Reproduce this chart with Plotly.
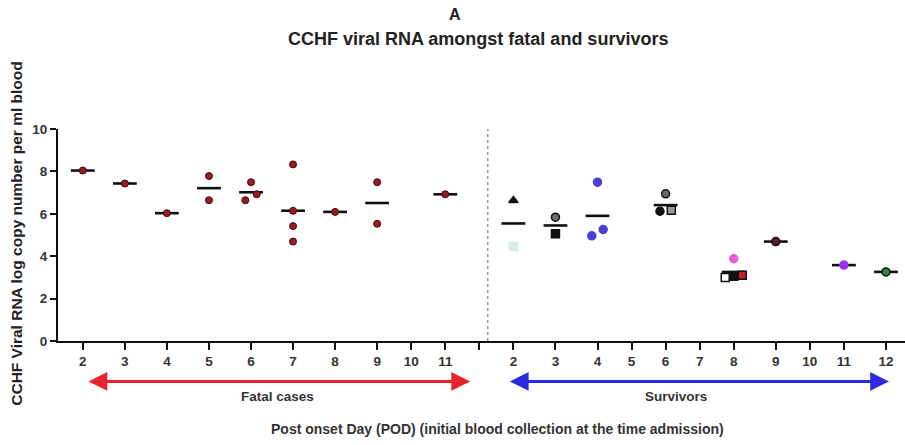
import plotly.graph_objects as go

# ---------------- data ----------------
fatal_days = [2, 3, 4, 5, 6, 7, 8, 9, 10, 11]
fatal_values = [
    [8.04], [7.43], [6.03], [7.78, 6.64], [7.49, 6.92, 6.64],
    [8.33, 6.14, 5.42, 4.69], [6.09], [7.49, 5.53], [], [6.92],
]
surv_days = [2, 3, 4, 5, 6, 7, 8, 9, 10, 11, 12]
surv_values = [
    [6.63, 4.46], [5.84, 5.06], [7.49, 5.26, 4.96], [], [6.94, 6.12, 6.17], [],
    [3.88, 3.0, 3.05, 3.1], [4.69], [], [3.58], [3.26],
]
y_ticks = [0, 2, 4, 6, 8, 10]

# ---------------- styles ----------------
FATAL_FILL = "#9a1c22"
FATAL_LINE = "#3a0a0c"
# per-point survivor styles: (symbol, fill, outline)
surv_styles = [
    [("triangle-up", "#111111", "#111111"), ("square", "#d9ece8", "#d9ece8")],
    [("circle", "#6a6a6a", "#111111"), ("square", "#111111", "#111111")],
    [("circle", "#4b3fd6", "#4b3fd6")] * 3,
    [],
    [("circle", "#6a6a6a", "#111111"), ("circle", "#111111", "#111111"), ("square", "#9a9a9a", "#111111")],
    [],
    [("circle", "#f05ad2", "#f05ad2"), ("square", "#ffffff", "#111111"),
     ("square", "#111111", "#111111"), ("square", "#c0202e", "#111111")],
    [("circle", "#5a1a30", "#111111")],
    [],
    [("circle", "#9b30f0", "#9b30f0")],
    [("circle", "#2e8b3e", "#111111")],
]

# ---------------- column positions (GraphPad-like: empty columns narrower) ----------------
EMPTY_W = 0.62
columns = [("F", d, v) for d, v in zip(fatal_days, fatal_values)] + [("G", None, [])] + \
          [("S", d, v) for d, v in zip(surv_days, surv_values)]
centers = []
acc = 0.0
for kind, d, v in columns:
    w = 1.0 if v else EMPTY_W
    centers.append(acc + w / 2)
    acc += w
gap_center = centers[len(fatal_days)]


def swarm_offsets(vals, thr=0.45, step=0.27):
    """offsets so that points closer than thr in y are spread horizontally"""
    n = len(vals)
    offs = [0.0] * n
    order = sorted(range(n), key=lambda i: vals[i])
    clusters, cur = [], [order[0]] if n else []
    for a, b in zip(order, order[1:]):
        if vals[b] - vals[a] < thr:
            cur.append(b)
        else:
            clusters.append(cur)
            cur = [b]
    if cur:
        clusters.append(cur)
    for cl in clusters:
        m = len(cl)
        st = step if m <= 2 else step * 0.75
        for k, i in enumerate(cl):
            offs[i] = (k - (m - 1) / 2) * st
    return offs


fig = go.Figure()

# mean bars
bx, by = [], []
for (kind, d, v), c in zip(columns, centers):
    if v:
        bx.append(c)
        by.append(sum(v) / len(v))
fig.add_trace(go.Scatter(
    x=bx, y=by, mode="markers", cliponaxis=False, hoverinfo="skip",
    marker=dict(symbol="line-ew", size=17, line=dict(color="#111111", width=2.6)),
))

# fatal points
fx, fy = [], []
for i, v in enumerate(fatal_values):
    offs = swarm_offsets(v) if v else []
    for val, o in zip(v, offs):
        fx.append(centers[i] + o)
        fy.append(val)
fig.add_trace(go.Scatter(
    x=fx, y=fy, mode="markers", cliponaxis=False,
    marker=dict(symbol="circle", size=7, color=FATAL_FILL, line=dict(color=FATAL_LINE, width=1)),
))

# survivor points
base = len(fatal_days) + 1
sx, sy, ssym, sfill, sline = [], [], [], [], []
for j, v in enumerate(surv_values):
    offs = swarm_offsets(v) if v else []
    for k, (val, o) in enumerate(zip(v, offs)):
        sym, fill, line = surv_styles[j][k]
        sx.append(centers[base + j] + o)
        sy.append(val)
        ssym.append(sym)
        sfill.append(fill)
        sline.append(line)
fig.add_trace(go.Scatter(
    x=sx, y=sy, mode="markers", cliponaxis=False,
    marker=dict(symbol=ssym, size=8, color=sfill, line=dict(color=sline, width=1.5)),
))

# ---------------- layout ----------------
W, H = 905, 445
L, R, T, B = 58, 0, 129, 103.5
PW, PH = W - L - R, H - T - B


def px(xp):
    return (xp - L) / PW


def py(yp):
    return (H - B - yp) / PH


tickvals = centers
ticktext = [str(d) for d in fatal_days] + [""] + [str(d) for d in surv_days]

FONT = "Liberation Sans, Arial"
x0 = centers[0] - 0.59
x1 = x0 + PW / 42.05

fig.update_layout(
    width=W, height=H, margin=dict(l=L, r=R, t=T, b=B),
    paper_bgcolor="white", plot_bgcolor="white", showlegend=False,
    font=dict(family=FONT, color="#333333"),
    xaxis=dict(range=[x0, x1], tickmode="array", tickvals=tickvals,
               ticktext=[f"<b>{t}</b>" for t in ticktext],
               showgrid=False, zeroline=False, showline=True, linecolor="#111111", linewidth=2,
               ticks="outside", ticklen=7, tickwidth=2, tickcolor="#111111",
               tickfont=dict(size=13.5, color="#333333")),
    yaxis=dict(range=[0, 10], tickmode="array", tickvals=y_ticks,
               ticktext=[f"<b>{t}</b>" for t in y_ticks],
               showgrid=False, zeroline=False, showline=True, linecolor="#111111", linewidth=2,
               ticks="outside", ticklen=6, tickwidth=2, tickcolor="#111111",
               tickfont=dict(size=13.5, color="#333333")),
)

# divider
fig.add_shape(type="line", xref="x", yref="y", x0=gap_center + 0.2, x1=gap_center + 0.2,
              y0=0, y1=10.05, line=dict(color="#7fa595", width=1.5, dash="dot"))


def label(text, x, y, size, color="#333333", angle=0):
    return dict(text=f"<b>{text}</b>", x=px(x), y=py(y), xref="paper", yref="paper",
                xanchor="center", yanchor="middle", showarrow=False, textangle=angle,
                font=dict(size=size, color=color, family=FONT))


ann = [
    label("A", 455, 14, 16, "#222222"),
    label("CCHF viral RNA amongst fatal and survivors", 478, 39, 18, "#222222"),
    label("CCHF Viral RNA log copy number per ml blood", 17, 234, 15.5, "#222222", -90),
    label("Post onset Day (POD) (initial blood collection at the time admission)", 497, 430, 14),
    label("Fatal cases", 277, 397, 13.5),
    label("Survivors", 676, 397, 13.5),
]
# double-headed arrows
s2 = centers[base]
s12 = centers[-1]
for (a, b, col) in [(centers[0] + 0.1, gap_center - 0.22, "#e8232c"), (s2 - 0.12, s12 + 0.07, "#2a2ae0")]:
    ann.append(dict(text="", x=b, y=py(382), xref="x", yref="paper",
                    ax=a, ay=0, axref="x", ayref="pixel", showarrow=True,
                    arrowhead=2, arrowside="end+start", arrowsize=1.25, arrowwidth=3, arrowcolor=col))
fig.update_layout(annotations=ann)

fig.write_html("out.html")
